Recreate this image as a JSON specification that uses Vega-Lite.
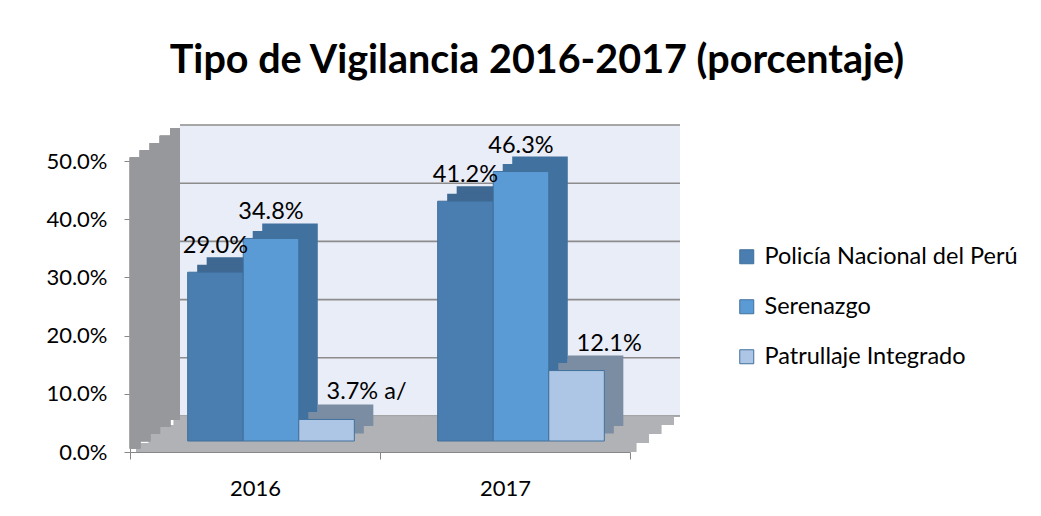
{
  "$schema": "https://vega.github.io/schema/vega-lite/v6.json",
  "width": 500,
  "height": 291,
  "autosize": {"type": "none"},
  "padding": {"left": 146, "top": 161, "right": 395, "bottom": 64},
  "background": "white",
  "title": {
    "text": "Tipo de Vigilancia 2016-2017 (porcentaje)",
    "font": "Lato",
    "fontSize": 39.5,
    "fontWeight": "bold",
    "color": "#000000",
    "anchor": "middle",
    "frame": "group",
    "dx": 141,
    "offset": 42
  },
  "config": {
    "view": {"stroke": null},
    "font": "Lato",
    "scale": {"bandPaddingInner": 0, "bandPaddingOuter": 0, "bandWithNestedOffsetPaddingInner": 0, "bandWithNestedOffsetPaddingOuter": 0},
    "axisY": {"offset": 16, "tickSize": 6, "labelPadding": 17, "domainColor": "#888888", "tickColor": "#888888", "labelFontSize": 22, "labelColor": "#000000", "labelFont": "Lato", "grid": false, "title": null, "format": ".1%"},
    "axisX": {"translate": -15.5, "offset": 16, "tickBand": "extent", "tickSize": 7, "labelPadding": 19, "labelAngle": 0, "domainColor": "#868686", "tickColor": "#868686", "labelFontSize": 22, "labelColor": "#000000", "labelFont": "Lato", "grid": false, "title": null}
  },
  "datasets": {
    "bars": [
      {"year": "2016", "serie": "Policía Nacional del Perú", "value": 0.290, "label": "29.0%"},
      {"year": "2016", "serie": "Serenazgo", "value": 0.348, "label": "34.8%"},
      {"year": "2016", "serie": "Patrullaje Integrado", "value": 0.037, "label": "3.7% a/"},
      {"year": "2017", "serie": "Policía Nacional del Perú", "value": 0.412, "label": "41.2%"},
      {"year": "2017", "serie": "Serenazgo", "value": 0.463, "label": "46.3%"},
      {"year": "2017", "serie": "Patrullaje Integrado", "value": 0.121, "label": "12.1%"}
    ],
    "grid": [
      {"year": "2016", "v": 0}, {"year": "2017", "v": 0},
      {"year": "2016", "v": 0.1}, {"year": "2017", "v": 0.1},
      {"year": "2016", "v": 0.2}, {"year": "2017", "v": 0.2},
      {"year": "2016", "v": 0.3}, {"year": "2017", "v": 0.3},
      {"year": "2016", "v": 0.4}, {"year": "2017", "v": 0.4},
      {"year": "2016", "v": 0.5}, {"year": "2017", "v": 0.5}
    ]
  },
  "data": {"name": "bars"},
  "layer": [
    {
      "mark": {"type": "rect", "fill": "#e9edf8", "xOffset": 34, "x2Offset": 34, "yOffset": -36, "y2Offset": -36},
      "encoding": {
        "x": {"field": "year", "type": "nominal", "title": null, "scale": {"paddingInner": 0, "paddingOuter": 0}},
        "y": {"datum": 0.5, "type": "quantitative", "title": null, "scale": {"domain": [0, 0.5]}, "axis": {"values": [0, 0.1, 0.2, 0.3, 0.4, 0.5], "format": ".1%"}},
        "y2": {"datum": 0}
      }
    },
    {
      "data": {"name": "grid"},
      "mark": {"type": "rect", "fill": "#8c8c8c", "xOffset": 34, "x2Offset": 34, "yOffset": -36.8, "y2Offset": -35.2},
      "encoding": {
        "x": {"field": "year", "type": "nominal", "title": null},
        "y": {"field": "v", "type": "quantitative", "title": null, "axis": {"values": [0, 0.1, 0.2, 0.3, 0.4, 0.5], "format": ".1%"}},
        "y2": {"field": "v"}
      }
    },
    {
      "mark": {"type": "rect", "fill": "#b1b2b6", "xOffset": -9.75, "x2Offset": -9.75, "yOffset": 0, "y2Offset": -9},
      "encoding": {"x": {"field": "year", "type": "nominal", "title": null}, "y": {"datum": 0, "type": "quantitative", "title": null, "axis": {"values": [0, 0.1, 0.2, 0.3, 0.4, 0.5], "format": ".1%"}}, "y2": {"datum": 0}}
    },
    {
      "mark": {"type": "rect", "fill": "#b1b2b6", "xOffset": 2.75, "x2Offset": 2.75, "yOffset": -9, "y2Offset": -18},
      "encoding": {"x": {"field": "year", "type": "nominal", "title": null}, "y": {"datum": 0, "type": "quantitative", "title": null, "axis": {"values": [0, 0.1, 0.2, 0.3, 0.4, 0.5], "format": ".1%"}}, "y2": {"datum": 0}}
    },
    {
      "mark": {"type": "rect", "fill": "#b1b2b6", "xOffset": 15.25, "x2Offset": 15.25, "yOffset": -18, "y2Offset": -27},
      "encoding": {"x": {"field": "year", "type": "nominal", "title": null}, "y": {"datum": 0, "type": "quantitative", "title": null, "axis": {"values": [0, 0.1, 0.2, 0.3, 0.4, 0.5], "format": ".1%"}}, "y2": {"datum": 0}}
    },
    {
      "mark": {"type": "rect", "fill": "#b1b2b6", "xOffset": 27.75, "x2Offset": 27.75, "yOffset": -27, "y2Offset": -35.5},
      "encoding": {"x": {"field": "year", "type": "nominal", "title": null}, "y": {"datum": 0, "type": "quantitative", "title": null, "axis": {"values": [0, 0.1, 0.2, 0.3, 0.4, 0.5], "format": ".1%"}}, "y2": {"datum": 0}}
    },
    {
      "mark": {"type": "rule", "color": "#96989c", "strokeWidth": 10.5, "strokeCap": "butt", "xOffset": -11, "yOffset": -3.6, "y2Offset": -3.6},
      "encoding": {"x": {"datum": "2016", "type": "nominal", "bandPosition": 0, "title": null}, "y": {"datum": 0, "type": "quantitative", "title": null, "axis": {"values": [0, 0.1, 0.2, 0.3, 0.4, 0.5], "format": ".1%"}}, "y2": {"datum": 0.5}}
    },
    {
      "mark": {"type": "rule", "color": "#96989c", "strokeWidth": 10.5, "strokeCap": "butt", "xOffset": -1, "yOffset": -10.8, "y2Offset": -10.8},
      "encoding": {"x": {"datum": "2016", "type": "nominal", "bandPosition": 0, "title": null}, "y": {"datum": 0, "type": "quantitative", "title": null, "axis": {"values": [0, 0.1, 0.2, 0.3, 0.4, 0.5], "format": ".1%"}}, "y2": {"datum": 0.5}}
    },
    {
      "mark": {"type": "rule", "color": "#96989c", "strokeWidth": 10.5, "strokeCap": "butt", "xOffset": 9, "yOffset": -18, "y2Offset": -18},
      "encoding": {"x": {"datum": "2016", "type": "nominal", "bandPosition": 0, "title": null}, "y": {"datum": 0, "type": "quantitative", "title": null, "axis": {"values": [0, 0.1, 0.2, 0.3, 0.4, 0.5], "format": ".1%"}}, "y2": {"datum": 0.5}}
    },
    {
      "mark": {"type": "rule", "color": "#96989c", "strokeWidth": 10.5, "strokeCap": "butt", "xOffset": 19, "yOffset": -25.2, "y2Offset": -25.2},
      "encoding": {"x": {"datum": "2016", "type": "nominal", "bandPosition": 0, "title": null}, "y": {"datum": 0, "type": "quantitative", "title": null, "axis": {"values": [0, 0.1, 0.2, 0.3, 0.4, 0.5], "format": ".1%"}}, "y2": {"datum": 0.5}}
    },
    {
      "mark": {"type": "rule", "color": "#96989c", "strokeWidth": 10, "strokeCap": "butt", "xOffset": 29, "yOffset": -32.4, "y2Offset": -32.4},
      "encoding": {"x": {"datum": "2016", "type": "nominal", "bandPosition": 0, "title": null}, "y": {"datum": 0, "type": "quantitative", "title": null, "axis": {"values": [0, 0.1, 0.2, 0.3, 0.4, 0.5], "format": ".1%"}}, "y2": {"datum": 0.5}}
    },
    {
      "mark": {"type": "bar", "yOffset": -26, "y2Offset": -26},
      "encoding": {
        "x": {"field": "year", "type": "nominal", "title": null},
        "xOffset": {"field": "serie", "type": "nominal", "sort": ["Policía Nacional del Perú", "Serenazgo", "Patrullaje Integrado"], "scale": {"paddingOuter": 0.75, "paddingInner": 0, "align": 0.728}},
        "y": {"field": "value", "type": "quantitative", "stack": null, "title": null, "axis": {"values": [0, 0.1, 0.2, 0.3, 0.4, 0.5], "format": ".1%"}},
        "y2": {"datum": 0},
        "fill": {"field": "serie", "type": "nominal", "legend": null, "scale": {"domain": ["Policía Nacional del Perú", "Serenazgo", "Patrullaje Integrado"], "range": ["#3e6792", "#41719e", "#7b8da2"]}}
      }
    },
    {
      "mark": {"type": "bar", "yOffset": -18.5, "y2Offset": -18.5},
      "encoding": {
        "x": {"field": "year", "type": "nominal", "title": null},
        "xOffset": {"field": "serie", "type": "nominal", "sort": ["Policía Nacional del Perú", "Serenazgo", "Patrullaje Integrado"], "scale": {"paddingOuter": 0.75, "paddingInner": 0, "align": 0.614}},
        "y": {"field": "value", "type": "quantitative", "stack": null, "title": null, "axis": {"values": [0, 0.1, 0.2, 0.3, 0.4, 0.5], "format": ".1%"}},
        "y2": {"datum": 0},
        "fill": {"field": "serie", "type": "nominal", "legend": null, "scale": {"domain": ["Policía Nacional del Perú", "Serenazgo", "Patrullaje Integrado"], "range": ["#3e6792", "#41719e", "#7b8da2"]}}
      }
    },
    {
      "mark": {"type": "bar", "yOffset": -11, "y2Offset": -11, "stroke": "#41719c", "strokeWidth": 1},
      "encoding": {
        "x": {"field": "year", "type": "nominal", "title": null},
        "xOffset": {"field": "serie", "type": "nominal", "sort": ["Policía Nacional del Perú", "Serenazgo", "Patrullaje Integrado"], "scale": {"paddingOuter": 0.75, "paddingInner": 0}},
        "y": {"field": "value", "type": "quantitative", "stack": null, "title": null, "axis": {"values": [0, 0.1, 0.2, 0.3, 0.4, 0.5], "format": ".1%"}},
        "y2": {"datum": 0},
        "color": {
          "field": "serie", "type": "nominal",
          "scale": {"domain": ["Policía Nacional del Perú", "Serenazgo", "Patrullaje Integrado"], "range": ["#4a7db0", "#5b9bd5", "#adc6e5"]},
          "legend": {"title": null, "orient": "none", "legendX": 589, "legendY": 84, "labelFont": "Lato", "labelFontSize": 23.5, "labelColor": "#000000", "labelLimit": 0, "symbolType": "square", "symbolSize": 196, "symbolStrokeColor": "#41719c", "symbolStrokeWidth": 1, "rowPadding": 25, "labelOffset": 6}
        }
      }
    },
    {
      "mark": {"type": "text", "align": "center", "baseline": "alphabetic", "yOffset": -30, "fontSize": 23.5, "font": "Lato", "color": "#000000"},
      "encoding": {
        "x": {"field": "year", "type": "nominal", "title": null},
        "xOffset": {"field": "serie", "type": "nominal", "sort": ["Policía Nacional del Perú", "Serenazgo", "Patrullaje Integrado"], "scale": {"type": "band", "paddingOuter": 0.75, "paddingInner": 0}},
        "y": {"field": "value", "type": "quantitative", "title": null, "axis": {"values": [0, 0.1, 0.2, 0.3, 0.4, 0.5], "format": ".1%"}},
        "text": {"field": "label", "type": "nominal"},
        "opacity": {"condition": {"test": "datum.serie !== 'Patrullaje Integrado'", "value": 1}, "value": 0}
      }
    },
    {
      "mark": {"type": "text", "align": "left", "baseline": "alphabetic", "yOffset": -31, "fontSize": 23.5, "font": "Lato", "color": "#000000"},
      "encoding": {
        "x": {"field": "year", "type": "nominal", "title": null},
        "xOffset": {"field": "serie", "type": "nominal", "sort": ["Policía Nacional del Perú", "Serenazgo", "Patrullaje Integrado"], "scale": {"type": "band", "paddingOuter": 0.75, "paddingInner": 0}},
        "y": {"field": "value", "type": "quantitative", "title": null, "axis": {"values": [0, 0.1, 0.2, 0.3, 0.4, 0.5], "format": ".1%"}},
        "text": {"field": "label", "type": "nominal"},
        "opacity": {"condition": {"test": "datum.serie === 'Patrullaje Integrado'", "value": 1}, "value": 0}
      }
    }
  ],
  "resolve": {"scale": {"xOffset": "independent", "fill": "independent"}}
}
